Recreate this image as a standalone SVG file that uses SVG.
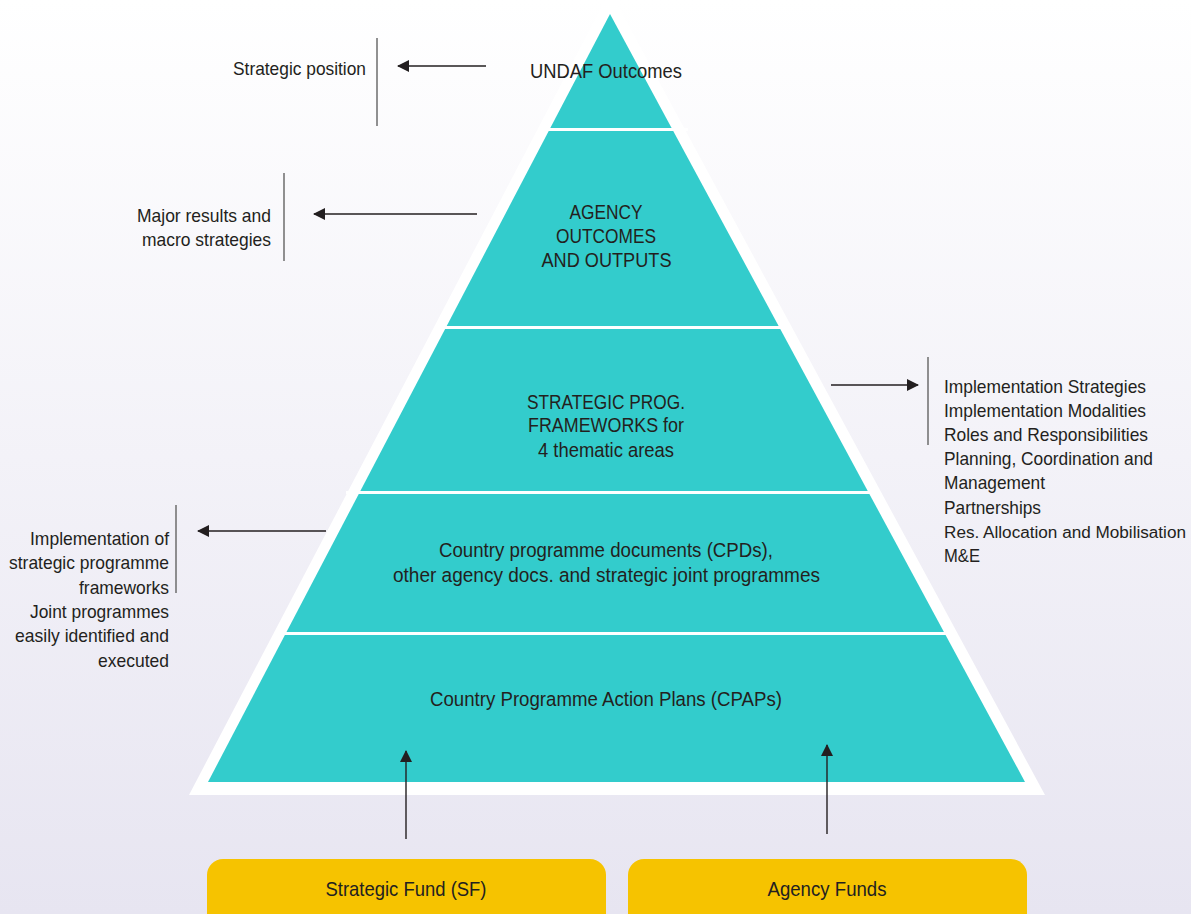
<svg xmlns="http://www.w3.org/2000/svg" width="1191" height="914" viewBox="0 0 1191 914">
<defs>
<linearGradient id="bg" x1="0" y1="0" x2="0" y2="1">
<stop offset="0" stop-color="#ffffff"/>
<stop offset="1" stop-color="#e7e5f1"/>
</linearGradient>
<marker id="ah" viewBox="0 0 12 12" refX="11" refY="6" markerWidth="12" markerHeight="12" markerUnits="userSpaceOnUse" orient="auto">
<path d="M0,0 L12,6 L0,12 Z" fill="#231f20"/>
</marker>
<style>
text{font-family:"Liberation Sans",Arial,sans-serif;font-size:20.5px;fill:#231f20}
.s{font-size:19px}
.t{font-size:17.3px}
.f{font-size:21px}
.c{text-anchor:middle}
.r{text-anchor:end}
.bar{stroke:#6d6d6d;stroke-width:1.5;fill:none}
.arr{stroke:#231f20;stroke-width:1.4;fill:none;marker-end:url(#ah)}
.band{fill:#33cccc}
.sep{stroke:#ffffff;stroke-width:3}
.fund{fill:#f6c300}
</style>
</defs>
<rect x="0" y="0" width="1191" height="914" fill="url(#bg)"/>
<g id="pyramid">
<polygon points="610,-9 189,795 1045,795" fill="#ffffff"/>
<polygon class="band" points="610,14 208,782 1025,782"/>
<line class="sep" x1="542" y1="129.5" x2="688" y2="129.5"/>
<line class="sep" x1="436" y1="327.5" x2="790" y2="327.5"/>
<line class="sep" x1="346" y1="492.5" x2="880" y2="492.5"/>
<line class="sep" x1="276" y1="633.5" x2="956" y2="633.5"/>
</g>
<g id="level-undaf">
<text class="c" x="606" y="78" textLength="152" lengthAdjust="spacingAndGlyphs">UNDAF Outcomes</text>
</g>
<g id="level-agency">
<text class="c" x="606" y="219" textLength="73" lengthAdjust="spacingAndGlyphs">AGENCY</text>
<text class="c" x="606" y="243" textLength="100" lengthAdjust="spacingAndGlyphs">OUTCOMES</text>
<text class="c" x="606.5" y="267" textLength="130" lengthAdjust="spacingAndGlyphs">AND  OUTPUTS</text>
</g>
<g id="level-spf">
<text class="c" x="606" y="409" textLength="158" lengthAdjust="spacingAndGlyphs">STRATEGIC PROG.</text>
<text class="c" x="606" y="432" textLength="156" lengthAdjust="spacingAndGlyphs">FRAMEWORKS for</text>
<text class="c" x="606" y="457" textLength="136" lengthAdjust="spacingAndGlyphs">4 thematic areas</text>
</g>
<g id="level-cpd">
<text class="c" x="606" y="557" textLength="334" lengthAdjust="spacingAndGlyphs">Country programme documents (CPDs),</text>
<text class="c" x="606.5" y="582" textLength="427" lengthAdjust="spacingAndGlyphs">other agency docs. and strategic joint programmes</text>
</g>
<g id="level-cpap">
<text class="c" x="606" y="706" textLength="352" lengthAdjust="spacingAndGlyphs">Country Programme Action Plans (CPAPs)</text>
</g>
<g id="note-strategic-position">
<line class="bar" x1="377" y1="38" x2="377" y2="126"/>
<text class="r s" x="366" y="75" textLength="133" lengthAdjust="spacingAndGlyphs">Strategic position</text>
</g>
<g id="note-major-results">
<line class="bar" x1="284" y1="173" x2="284" y2="261"/>
<text class="r s" x="271" y="222" textLength="134" lengthAdjust="spacingAndGlyphs">Major results and</text>
<text class="r s" x="271" y="246" textLength="129" lengthAdjust="spacingAndGlyphs">macro strategies</text>
</g>
<g id="note-implementation">
<line class="bar" x1="928" y1="357" x2="928" y2="445"/>
<text class="s" x="944" y="393" textLength="202" lengthAdjust="spacingAndGlyphs">Implementation Strategies</text>
<text class="s" x="944" y="417" textLength="202" lengthAdjust="spacingAndGlyphs">Implementation Modalities</text>
<text class="s" x="944" y="441" textLength="204" lengthAdjust="spacingAndGlyphs">Roles and Responsibilities</text>
<text class="s" x="944" y="465" textLength="209" lengthAdjust="spacingAndGlyphs">Planning, Coordination and</text>
<text class="s" x="944" y="489" textLength="101" lengthAdjust="spacingAndGlyphs">Management</text>
<text class="s" x="944" y="514" textLength="97" lengthAdjust="spacingAndGlyphs">Partnerships</text>
<text class="t" x="944" y="538" textLength="242" lengthAdjust="spacingAndGlyphs">Res. Allocation and Mobilisation</text>
<text class="s" x="944" y="562" textLength="36" lengthAdjust="spacingAndGlyphs">M&amp;E</text>
</g>
<g id="note-joint">
<line class="bar" x1="176" y1="505" x2="176" y2="593"/>
<text class="r s" x="169" y="545" textLength="139" lengthAdjust="spacingAndGlyphs">Implementation of</text>
<text class="r s" x="169" y="569" textLength="160" lengthAdjust="spacingAndGlyphs">strategic programme</text>
<text class="r s" x="169" y="594" textLength="90" lengthAdjust="spacingAndGlyphs">frameworks</text>
<text class="r s" x="169" y="618" textLength="139" lengthAdjust="spacingAndGlyphs">Joint programmes</text>
<text class="r s" x="169" y="642" textLength="154" lengthAdjust="spacingAndGlyphs">easily identified and</text>
<text class="r s" x="169" y="667" textLength="71" lengthAdjust="spacingAndGlyphs">executed</text>
</g>
<g id="fund-sf">
<rect class="fund" x="207" y="859" width="399" height="80" rx="16"/>
<text class="c f" x="406" y="896" textLength="161" lengthAdjust="spacingAndGlyphs">Strategic Fund (SF)</text>
</g>
<g id="fund-agency">
<rect class="fund" x="628" y="859" width="399" height="80" rx="16"/>
<text class="c f" x="827" y="896" textLength="119" lengthAdjust="spacingAndGlyphs">Agency Funds</text>
</g>
<g id="connectors">
<line class="arr" x1="486" y1="66" x2="398" y2="66"/>
<line class="arr" x1="477" y1="214" x2="314" y2="214"/>
<line class="arr" x1="831" y1="385" x2="918" y2="385"/>
<line class="arr" x1="326" y1="531" x2="198" y2="531"/>
<line class="arr" x1="406" y1="839" x2="406" y2="751"/>
<line class="arr" x1="827" y1="834" x2="827" y2="745"/>
</g>
</svg>
